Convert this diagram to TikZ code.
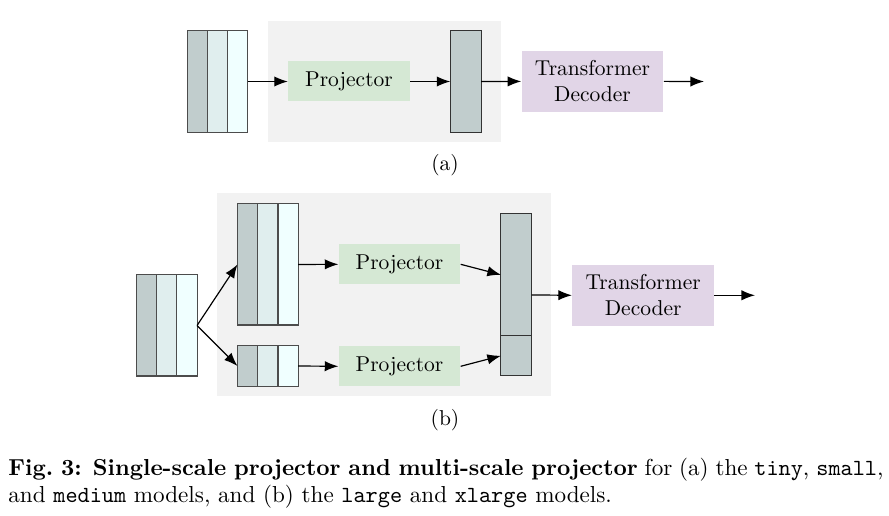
\documentclass[tikz,border=0pt]{standalone}
\usetikzlibrary{positioning,arrows.meta,calc}
\definecolor{stackdark}{HTML}{C1CDCD}
\definecolor{stackmid}{HTML}{E0EEEE}
\definecolor{stacklight}{HTML}{F0FFFF}
\definecolor{panelbg}{HTML}{F2F2F2}
\definecolor{projgreen}{HTML}{D5E8D4}
\definecolor{decpurple}{HTML}{E1D5E7}
\tikzset{
  col/.style={draw=black!70, line width=0.5pt, inner sep=0pt, outer sep=0pt,
              minimum width=9.35pt},
  panel/.style={fill=panelbg, inner sep=0pt, outer sep=0pt},
  proj/.style={fill=projgreen, inner sep=0pt, minimum width=56.5pt,
               minimum height=18.6pt},
  dec/.style={fill=decpurple, align=center, inner sep=0pt,
              minimum width=65.9pt, minimum height=28.4pt},
  bar/.style={draw=black!80, fill=stackdark, line width=0.5pt, inner sep=0pt,
              outer sep=0pt, minimum width=14.3pt},
  flow/.style={-{Latex[length=6.3pt,width=4.8pt]}, line width=0.55pt},
}
\begin{document}
\begin{tikzpicture}[x=0.465pt, y=-0.465pt]
    \useasboundingbox (0,0) rectangle (889,516);

    \node[panel, minimum width=108.3pt, minimum height=56.3pt] (bgA) at (384.5,81.5) {};
    \foreach \c [count=\i] in {stackdark,stackmid,stacklight}
      \node[col, fill=\c, minimum height=47.2pt] (inA\i) at ({177.5+20*\i},81.5) {};
    \node[proj] (projA) at (349,81.5) {Projector};
    \node[bar, minimum height=47.2pt] (outA) at (465.7,81.5) {};
    \node[dec] (decA) at (592.5,81.4) {Transformer\\Decoder};
    \coordinate (endA) at (704,81.5);
    \node (labA) at (445,165) {(a)};

    \draw[flow] (inA3.east) -- (projA.west);
    \draw[flow] (projA.east) -- (outA.west);
    \draw[flow] (outA.east) -- (decA.west);
    \draw[flow] (decA.east) -- (endA);

    \node[panel, minimum width=155.3pt, minimum height=94.4pt] (bgB) at (384,294.5) {};
    \foreach \c [count=\i] in {stackdark,stackmid,stacklight} {
      \node[col, fill=\c, minimum height=47pt] (inB\i) at ({127+20*\i},325.5) {};
      \node[col, fill=\c, minimum height=56.3pt] (upB\i) at ({227.2+20.3*\i},264.5) {};
      \node[col, fill=\c, minimum height=18.8pt] (loB\i) at ({227.2+20.3*\i},366) {};
    }
    \node[proj] (projB1) at (399.5,264.3) {Projector};
    \node[proj] (projB2) at (399.5,366.3) {Projector};
    \node[bar, minimum height=56.6pt] (outB1) at (516.3,274.8) {};
    \node[bar, minimum height=18.7pt] (outB2) at (516.3,355.8) {};
    \node[dec] (decB) at (643.2,295.3) {Transformer\\Decoder};
    \coordinate (endB) at (755,295.3);
    \node (labB) at (445,420) {(b)};

    \draw[flow] (inB3.east) -- (upB1.west);
    \draw[flow] (inB3.east) -- (loB1.west);
    \draw[flow] (upB3.east) -- (projB1.west);
    \draw[flow] (loB3.east) -- (projB2.west);
    \draw[flow] (projB1.east) -- (outB1.west);
    \draw[flow] (projB2.east) -- (outB2.west);
    \draw[flow] ($(outB1.north east)!0.5!(outB2.south east)$) -- (decB.west);
    \draw[flow] (decB.east) -- (endB);

    \node[anchor=north west, inner sep=0pt, text width=406.9pt, align=justify,
          font=\fontsize{10.75}{12.4}\selectfont] (caption) at (8,458)
      {\textbf{Fig.\ 3: Single-scale projector and multi-scale projector} for (a) the
       \texttt{tiny}, \texttt{small},\linebreak and \texttt{medium} models, and (b) the
       \texttt{large} and \texttt{xlarge} models.};
  \end{tikzpicture}
\end{document}
